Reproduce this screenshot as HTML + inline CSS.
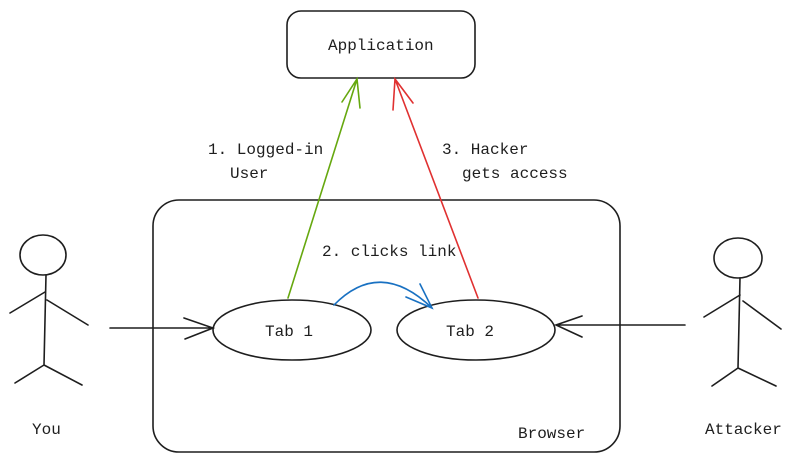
<!DOCTYPE html>
<html><head><meta charset="utf-8"><style>
html,body{margin:0;padding:0;background:#fff;}
svg{display:block;}
text{font-family:"Liberation Mono",monospace;font-size:16px;fill:#1e1e1e;}
</style></head><body>
<svg width="805" height="460" viewBox="0 0 805 460" xmlns="http://www.w3.org/2000/svg">
<g fill="none" stroke="#1e1e1e" stroke-width="1.6" stroke-linecap="round">
<rect x="287" y="11" width="188" height="67" rx="14"/>
<rect x="153" y="200" width="467" height="252" rx="26"/>
<ellipse cx="292" cy="330" rx="79" ry="30"/>
<ellipse cx="476" cy="330" rx="79" ry="30"/>
<ellipse cx="43" cy="255" rx="23" ry="20"/>
<path d="M46 275 L44 365 M45 292 L10 313 M47 300 L88 325 M44 365 L15 383 M44 365 L82 385"/>
<path d="M110 328 L213 328 M184 318 L213 328 L185 339"/>
<ellipse cx="738" cy="258" rx="24" ry="20"/>
<path d="M740 278 L738 368 M740 295 L704 317 M743 301 L781 329 M738 368 L712 386 M738 368 L776 386"/>
<path d="M685 325 L556 325 M582 316 L556 325 L582 337"/>
</g>
<g fill="none" stroke-width="1.6" stroke-linecap="round">
<path d="M288 298 L357 79 M342 102 L357 79 L360 108" stroke="#66a80f"/>
<path d="M478 298 L395 79 M393 110 L395 79 L413 103" stroke="#e03131"/>
<path d="M334 305 Q380 258 432 308 M406 297 L432 308 L420 284" stroke="#1971c2"/>
</g>
<text x="328" y="50">Application</text>
<text x="208" y="154">1. Logged-in</text>
<text x="230" y="178">User</text>
<text x="442" y="154">3. Hacker</text>
<text x="462" y="178">gets access</text>
<text x="322" y="256">2. clicks link</text>
<text x="265" y="336">Tab 1</text>
<text x="446" y="336">Tab 2</text>
<text x="518" y="438">Browser</text>
<text x="32" y="434">You</text>
<text x="705" y="434">Attacker</text>
</svg>
</body></html>
